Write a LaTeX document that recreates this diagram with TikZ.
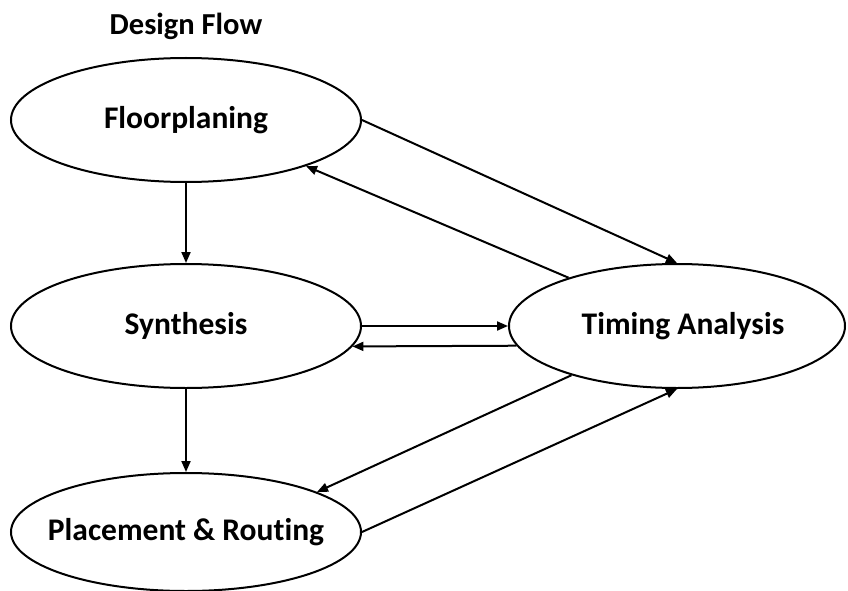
\documentclass[tikz,border=0pt]{standalone}
\usepackage{fontspec}
\setmainfont[Ligatures=NoCommon]{Carlito}
\usetikzlibrary{shapes.geometric,arrows.meta}
\begin{document}
\begin{tikzpicture}[x=1pt,y=-1pt,
  stage/.style={ellipse,draw,line width=2pt,inner ysep=0pt,inner xsep=-60pt,
    font=\fontsize{31.5}{36}\selectfont\bfseries},
  flow/.style={line width=2pt,-{Triangle[length=11pt,width=9pt]}},
  title/.style={font=\fontsize{30.5}{36}\selectfont\bfseries,inner sep=0pt}]
\useasboundingbox (0,0) rectangle (848,591);
\node[title,anchor=base] (t) at (186,35) {Design Flow};
\node[stage,minimum width=350pt,minimum height=124pt] (fp) at (186,120) {Floorplaning};
\node[stage,minimum width=350pt,minimum height=124pt] (sy) at (186,326) {Synthesis};
\node[stage,minimum width=350pt,minimum height=118pt] (pr) at (186,532) {Placement \& Routing};
\node[stage,minimum width=336pt,minimum height=124pt] (tm) at (677,326) {\hspace*{12pt}Timing Analysis};
\draw[flow] (fp.south) -- (sy.north);
\draw[flow] (sy.south) -- (pr.north);
\draw[flow] (fp.east) -- (tm.north);
\draw[flow] (tm.156.7) -- (fp.-21.6);
\draw[flow] (sy.east) -- (tm.west);
\draw[flow] (tm.187.6) -- (sy.-7.3);
\draw[flow] (tm.205) -- (pr.17.4);
\draw[flow] (pr.east) -- (tm.south);
\end{tikzpicture}
\end{document}
